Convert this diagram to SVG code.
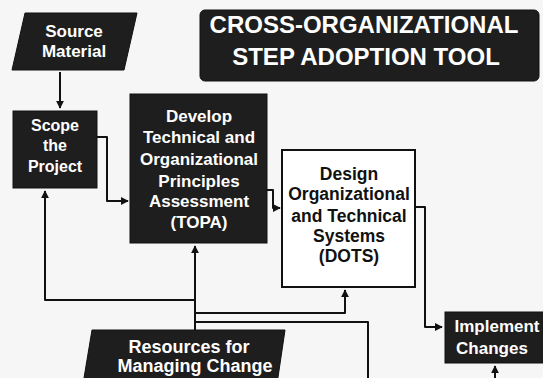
<svg xmlns="http://www.w3.org/2000/svg" width="543" height="378" viewBox="0 0 543 378">
<defs>
<style>
.dark{fill:#1e1e1e;stroke:#111;stroke-width:1}
.wt{fill:#ffffff;font-family:"Liberation Sans",Arial,sans-serif;font-weight:bold;text-anchor:middle}
.bt{fill:#111;font-family:"Liberation Sans",Arial,sans-serif;font-weight:bold;text-anchor:middle}
.ln{fill:none;stroke:#111;stroke-width:2;stroke-linejoin:round}
</style>
<marker id="ah" viewBox="0 0 10 10" refX="9" refY="5" markerWidth="4" markerHeight="4" orient="auto" markerUnits="strokeWidth">
<path d="M0,0 L10,5 L0,10 Z" fill="#111"/>
</marker>
</defs>
<rect width="543" height="378" fill="#f6f6f6"/>

<g id="title">
<rect x="200" y="10" width="339" height="71" rx="5" class="dark"/>
<text x="364" y="33" class="wt" font-size="24">CROSS-ORGANIZATIONAL</text>
<text x="366" y="65" class="wt" font-size="24">STEP ADOPTION TOOL</text>
</g>

<g id="source">
<polygon points="25,13 137,13 124,70 12,70" class="dark"/>
<text x="74" y="37" class="wt" font-size="17">Source</text>
<text x="74" y="57" class="wt" font-size="17">Material</text>
</g>

<g id="scope">
<rect x="13" y="111" width="84" height="77" class="dark"/>
<text x="55" y="131" class="wt" font-size="16">Scope</text>
<text x="55" y="151" class="wt" font-size="16">the</text>
<text x="55" y="172" class="wt" font-size="16">Project</text>
</g>

<g id="topa">
<rect x="130" y="94" width="137" height="149" class="dark"/>
<text x="199" y="122" class="wt" font-size="17">Develop</text>
<text x="199" y="143" class="wt" font-size="17">Technical and</text>
<text x="199" y="165" class="wt" font-size="17">Organizational</text>
<text x="199" y="187" class="wt" font-size="17">Principles</text>
<text x="199" y="207" class="wt" font-size="17">Assessment</text>
<text x="199" y="228" class="wt" font-size="17">(TOPA)</text>
</g>

<g id="dots">
<rect x="282" y="150" width="133" height="137" fill="#ffffff" stroke="#111" stroke-width="2"/>
<text x="349" y="180" class="bt" font-size="17.5">Design</text>
<text x="349" y="200" class="bt" font-size="17.5">Organizational</text>
<text x="349" y="222" class="bt" font-size="17.5">and Technical</text>
<text x="349" y="242" class="bt" font-size="17.5">Systems</text>
<text x="349" y="262" class="bt" font-size="17.5">(DOTS)</text>
</g>

<g id="implement">
<rect x="445" y="312" width="104" height="51" class="dark"/>
<text x="497" y="332" class="wt" font-size="17">Implement</text>
<text x="492" y="354" class="wt" font-size="17">Changes</text>
</g>

<g id="resources">
<polygon points="92,330 285,330 277,384 83,384" class="dark"/>
<text x="189" y="353" class="wt" font-size="18">Resources for</text>
<text x="195" y="372" class="wt" font-size="18">Managing Change</text>
</g>

<g id="connectors">
<path d="M60,72 V108" class="ln" marker-end="url(#ah)"/>
<path d="M97,137 H107 V201 H128" class="ln" marker-end="url(#ah)"/>
<path d="M267,190 H273 V208 H280" class="ln" marker-end="url(#ah)"/>
<path d="M415,207 H425 V327 H442" class="ln" marker-end="url(#ah)"/>
<path d="M195,330 V246" class="ln" marker-end="url(#ah)"/>
<path d="M195,300 H45 V191" class="ln" marker-end="url(#ah)"/>
<path d="M195,313 H345 V290" class="ln" marker-end="url(#ah)"/>
<path d="M195,322 H368 V378" class="ln"/>
<path d="M495,378 V366" class="ln" marker-end="url(#ah)"/>
</g>
</svg>
